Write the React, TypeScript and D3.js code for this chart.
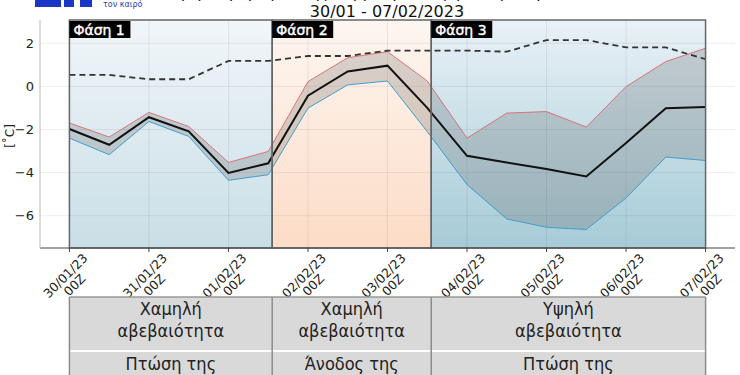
import React, { useEffect, useRef } from 'react';
import * as d3 from 'd3';

// 12-hourly forecast steps, in days from 30/01 00Z
const steps = [0, 0.5, 1, 1.5, 2, 2.5, 3, 3.5, 4, 4.5, 5, 5.5, 6, 6.5, 7, 7.5, 8];
const meanT = [-1.98, -2.71, -1.43, -2.09, -4.02, -3.57, -0.43, 0.69, 0.96, -1.0, -3.22, -3.53, -3.83, -4.18, -2.63, -1.01, -0.96];
const upperT = [-1.7, -2.35, -1.21, -1.86, -3.53, -3.02, 0.22, 1.33, 1.61, 0.25, -2.4, -1.24, -1.17, -1.89, -0.01, 1.15, 1.77];
const lowerT = [-2.4, -3.17, -1.63, -2.32, -4.36, -4.1, -1.01, 0.07, 0.25, -2.1, -4.56, -6.15, -6.54, -6.64, -5.18, -3.28, -3.44];
const climT = [0.53, 0.53, 0.33, 0.33, 1.18, 1.18, 1.41, 1.41, 1.66, 1.66, 1.66, 1.61, 2.15, 2.15, 1.81, 1.81, 1.26];

const dateLabels = ['30/01/23', '31/01/23', '01/02/23', '02/02/23', '03/02/23', '04/02/23', '05/02/23', '06/02/23', '07/02/23'];
const dateTicks = [0, 1, 2, 3, 4, 5, 6, 7, 8];
const yTicks = [-6, -4, -2, 0, 2];

const phaseNames = ['Φάση 1', 'Φάση 2', 'Φάση 3'];
const phaseBounds = [0, 2.55, 4.55, 8];
const phaseTop = ['#f1f6fa', '#fdf6f1', '#e9f1f7'];
const phaseBottom = ['#c9dee6', '#fcdcc6', '#a6cbd7'];

const uncertainty = ['Χαμηλή\nαβεβαιότητα', 'Χαμηλή\nαβεβαιότητα', 'Υψηλή\nαβεβαιότητα'];
const tendency = ['Πτώση της\nθερμοκρασίας', 'Άνοδος της\nθερμοκρασίας', 'Πτώση της\nθερμοκρασίας'];

const App = () => {
  const ref = useRef<SVGSVGElement>(null);

  useEffect(() => {
    const width = 740;
    const height = 375;
    const svg = d3.select(ref.current);
    svg.selectAll('*').remove();
    svg.attr('width', width).attr('height', height);

    const left = 40;
    const right = 735;
    const top = 20;
    const bottom = 248;

    const x = d3.scaleLinear().domain([-0.37, 8.37]).range([left, right]);
    const y = d3.scaleLinear().domain([-7.5, 3.08]).range([bottom, top]);

    const font = 'DejaVu Sans, sans-serif';

    // header: logo fragment + title
    svg.append('rect').attr('x', 35).attr('y', 0).attr('width', 26).attr('height', 7).attr('fill', '#1a36c4');
    svg.append('rect').attr('x', 64).attr('y', 0).attr('width', 10).attr('height', 7).attr('fill', '#1a36c4');
    svg.append('rect').attr('x', 80).attr('y', 0).attr('width', 12).attr('height', 7).attr('fill', '#1a36c4');
    svg.append('text').attr('x', 103).attr('y', 7).attr('font-family', font).attr('font-size', 8)
      .attr('fill', '#2a3fb0').text('τον καιρό');
    svg.append('text').attr('x', 370).attr('y', -2).attr('text-anchor', 'middle').attr('font-family', font)
      .attr('font-size', 16).attr('fill', '#111').text('Σύγκριση πρόγνωσης θερμοκρασίας για την περίοδο');
    svg.append('text').attr('x', 387).attr('y', 17).attr('text-anchor', 'middle').attr('font-family', font)
      .attr('font-size', 16).attr('fill', '#111').text('30/01 - 07/02/2023');

    // phase backgrounds
    const defs = svg.append('defs');
    phaseNames.forEach((_, i) => {
      const g = defs.append('linearGradient').attr('id', `ph${i}`)
        .attr('x1', 0).attr('x2', 0).attr('y1', 0).attr('y2', 1);
      g.append('stop').attr('offset', '0%').attr('stop-color', phaseTop[i]);
      g.append('stop').attr('offset', '100%').attr('stop-color', phaseBottom[i]);
    });

    phaseNames.forEach((name, i) => {
      svg.append('rect')
        .attr('x', x(phaseBounds[i])).attr('y', top)
        .attr('width', x(phaseBounds[i + 1]) - x(phaseBounds[i])).attr('height', bottom - top)
        .attr('fill', `url(#ph${i})`);
    });

    // grid
    const grid = svg.append('g').attr('stroke', '#000').attr('stroke-opacity', 0.07).attr('stroke-width', 1);
    dateTicks.forEach((d) => {
      grid.append('line').attr('x1', x(d)).attr('x2', x(d)).attr('y1', top).attr('y2', bottom);
    });
    yTicks.forEach((v) => {
      grid.append('line').attr('x1', left).attr('x2', right).attr('y1', y(v)).attr('y2', y(v));
    });

    // uncertainty band
    const area = d3.area<number>()
      .x((_, i) => x(steps[i]))
      .y0((_, i) => y(lowerT[i]))
      .y1((_, i) => y(upperT[i]));
    svg.append('path').attr('d', area(steps)).attr('fill', '#505050').attr('fill-opacity', 0.22);

    const line = (vals: number[]) => d3.line<number>().x((_, i) => x(steps[i])).y((v) => y(v))(vals);

    svg.append('path').attr('d', line(upperT)).attr('fill', 'none').attr('stroke', '#d9737b').attr('stroke-width', 1);
    svg.append('path').attr('d', line(lowerT)).attr('fill', 'none').attr('stroke', '#3f9fcc').attr('stroke-width', 1);
    svg.append('path').attr('d', line(climT)).attr('fill', 'none').attr('stroke', '#333')
      .attr('stroke-width', 1.8).attr('stroke-dasharray', '6,4');
    svg.append('path').attr('d', line(meanT)).attr('fill', 'none').attr('stroke', '#111').attr('stroke-width', 2);

    // phase outlines + labels
    phaseNames.forEach((name, i) => {
      const x0 = x(phaseBounds[i]);
      svg.append('rect')
        .attr('x', x0).attr('y', top)
        .attr('width', x(phaseBounds[i + 1]) - x0).attr('height', bottom - top)
        .attr('fill', 'none').attr('stroke', '#666').attr('stroke-width', 1.5);
      svg.append('rect').attr('x', x0).attr('y', top + 1).attr('width', 61).attr('height', 17).attr('fill', '#000');
      svg.append('text').attr('x', x0 + 4).attr('y', top + 14.5).attr('font-family', font)
        .attr('font-size', 14).attr('stroke', '#fff').attr('stroke-width', 0.4).attr('fill', '#fff').text(name);
    });

    // axes
    svg.append('line').attr('x1', left).attr('x2', right).attr('y1', bottom).attr('y2', bottom)
      .attr('stroke', '#444').attr('stroke-width', 1);
    svg.append('line').attr('x1', left).attr('x2', left).attr('y1', top).attr('y2', bottom)
      .attr('stroke', '#bbb').attr('stroke-width', 1);

    yTicks.forEach((v) => {
      svg.append('text').attr('x', 34).attr('y', y(v) + 4.5).attr('text-anchor', 'end')
        .attr('font-family', font).attr('font-size', 13).attr('fill', '#222')
        .text(d3.format('')(v).replace('-', '−'));
    });
    svg.append('text').attr('transform', `translate(14, ${y(-2.3)}) rotate(-90)`)
      .attr('text-anchor', 'middle').attr('font-family', font).attr('font-size', 12).attr('fill', '#222')
      .text('[˚C]');

    dateTicks.forEach((d, i) => {
      svg.append('line').attr('x1', x(d)).attr('x2', x(d)).attr('y1', bottom).attr('y2', bottom + 4)
        .attr('stroke', '#444');
      const g = svg.append('g').attr('transform', `translate(${x(d) + 19}, 259) rotate(-45)`)
        .attr('font-family', font).attr('font-size', 12.5).attr('fill', '#222');
      const t1 = g.append('text').attr('text-anchor', 'end').text(dateLabels[i]);
      const w = (t1.node() as SVGTextElement).getComputedTextLength();
      g.append('text').attr('x', -w / 2).attr('y', 13).attr('text-anchor', 'middle').text('00Z');
    });

    // table under the chart
    const tTop = 297;
    const rowH = 53;
    const table = svg.append('g');
    [uncertainty, tendency].forEach((row, r) => {
      row.forEach((txt, i) => {
        const x0 = x(phaseBounds[i]);
        const x1 = x(phaseBounds[i + 1]);
        table.append('rect').attr('x', x0).attr('y', tTop + r * (rowH + 2)).attr('width', x1 - x0).attr('height', rowH)
          .attr('fill', '#d9d9d9');
        txt.split('\n').forEach((ln, k) => {
          table.append('text').attr('x', (x0 + x1) / 2).attr('y', tTop + r * (rowH + 2) + 18 + k * 22)
            .attr('text-anchor', 'middle').attr('font-family', 'DejaVu Sans Condensed, DejaVu Sans, sans-serif')
            .attr('font-stretch', 'condensed').attr('font-size', 18).attr('fill', '#222').text(ln);
        });
      });
    });
    table.append('line').attr('x1', x(0)).attr('x2', x(8)).attr('y1', tTop).attr('y2', tTop)
      .attr('stroke', '#999').attr('stroke-width', 1.5);
    phaseBounds.forEach((b) => {
      table.append('line').attr('x1', x(b)).attr('x2', x(b)).attr('y1', tTop).attr('y2', height)
        .attr('stroke', '#8c8c8c').attr('stroke-width', 1.5);
    });
  }, []);

  return <svg ref={ref} style={{ position: 'absolute', left: 0, top: 0, background: '#fff' }} />;
};

export default App;
